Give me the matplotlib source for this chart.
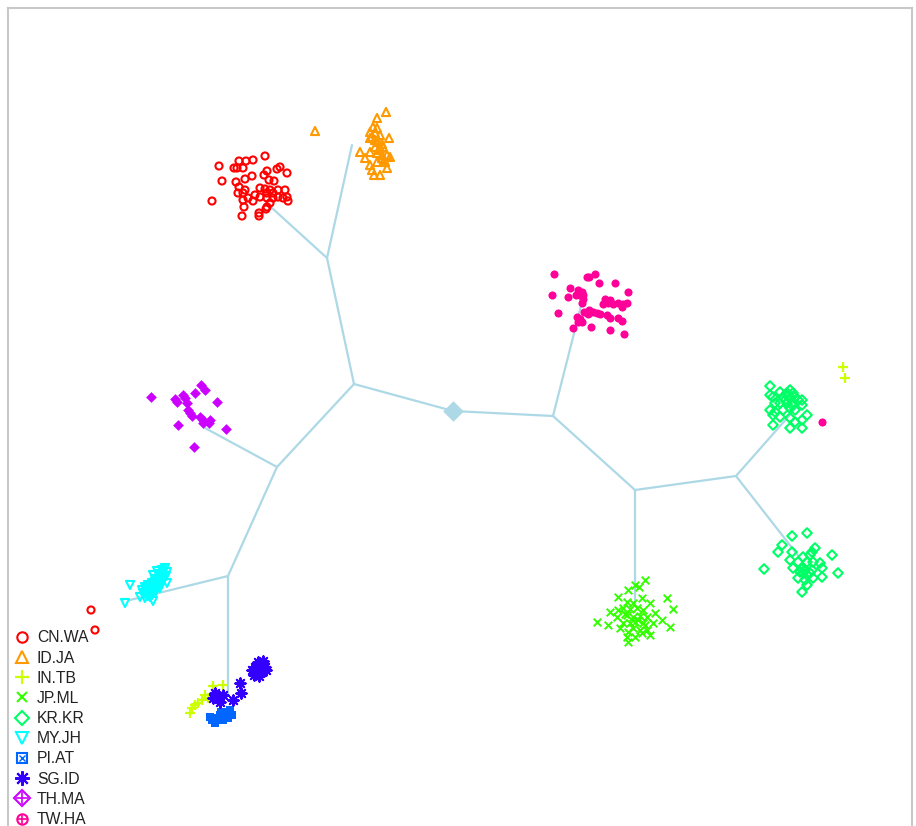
import matplotlib
matplotlib.use("Agg")
import matplotlib.pyplot as plt
from matplotlib.lines import Line2D
from matplotlib.legend_handler import HandlerTuple

# Population labels and R-style rainbow(10) palette
populations = ["CN.WA", "ID.JA", "IN.TB", "JP.ML", "KR.KR",
               "MY.JH", "PI.AT", "SG.ID", "TH.MA", "TW.HA"]
colors = ["#FF0000", "#FF9900", "#CCFF00", "#33FF00", "#00FF66",
          "#00FFFF", "#0066FF", "#3300FF", "#CC00FF", "#FF0099"]

# Individual scores per population (x, y on the plotting plane; y grows downward)
cn_wa_x = [265, 219, 239, 246, 253, 234, 243, 237, 280, 277, 287, 267, 264, 252, 245,
           222, 236, 269, 274, 239, 245, 260, 265, 270, 267, 273, 278, 285, 238, 243,
           255, 248, 260, 267, 273, 278, 283, 288, 287, 212, 243, 253, 270, 267, 266,
           244, 259, 259, 242, 91, 95]
cn_wa_y = [156, 166, 161, 161, 160, 168, 168, 168, 167, 169, 173, 171, 175, 176, 179,
           181, 182, 180, 181, 187, 190, 188, 189, 190, 193, 193, 190, 190, 193, 193,
           195, 198, 197, 198, 198, 197, 198, 201, 197, 201, 200, 201, 203, 207, 209,
           207, 213, 216, 216, 610, 630]

id_ja_x = [315, 386, 377, 373, 377, 370, 375, 372, 380, 389, 370, 378, 382, 375, 380,
           383, 360, 370, 377, 382, 387, 390, 365, 382, 385, 370, 377, 372, 387, 374, 380,
           375, 379, 384]
id_ja_y = [131, 112, 118, 127, 128, 132, 133, 137, 135, 138, 138, 142, 144, 147, 148,
           147, 152, 152, 153, 155, 155, 157, 158, 158, 162, 165, 162, 170, 168, 175, 175,
           140, 150, 160]

in_tb_x = [213, 223, 205, 202, 195, 190, 192, 198, 208, 843, 845]
in_tb_y = [686, 685, 695, 700, 705, 713, 708, 703, 698, 367, 378]

jp_ml_x = [645, 635, 639, 628, 618, 642, 667, 627, 633, 650, 673, 610, 618, 623, 630,
           637, 643, 617, 627, 633, 640, 647, 655, 597, 608, 623, 630, 635, 643, 653,
           662, 670, 620, 633, 640, 647, 628, 642, 650, 627, 635, 628, 625, 638, 645]
jp_ml_y = [580, 585, 587, 590, 597, 598, 598, 602, 603, 603, 609, 612, 610, 608, 609,
           608, 610, 617, 615, 617, 616, 617, 613, 622, 625, 623, 623, 622, 623, 623,
           620, 627, 628, 628, 630, 630, 632, 633, 635, 637, 637, 642, 614, 620, 625]

kr_kr_x = [770, 780, 790, 787, 793, 770, 773, 783, 790, 795, 798, 802, 775, 780, 787,
           793, 802, 770, 775, 783, 790, 795, 807, 773, 780, 790, 795, 802, 773, 790, 802,
           785, 792, 788,
           792, 807, 782, 778, 815, 812, 792, 810, 803, 832, 790, 798, 807, 813, 820,
           793, 802, 812, 822, 764, 803, 807, 810, 838, 798, 805, 813, 822, 807, 802,
           800, 805]
kr_kr_y = [386, 392, 390, 393, 393, 395, 397, 397, 398, 397, 400, 400, 403, 403, 403,
           403, 405, 410, 412, 410, 408, 410, 415, 415, 417, 418, 422, 420, 425, 428, 428,
           400, 405, 396,
           536, 533, 545, 552, 548, 552, 552, 555, 557, 555, 560, 562, 562, 562, 563,
           568, 569, 570, 568, 569, 573, 575, 573, 573, 578, 580, 578, 577, 585, 592,
           572, 570]

my_jh_x = [130, 125, 153, 153, 167, 162, 165, 167, 163, 160, 158, 155, 152, 148, 145,
           142, 143, 147, 150, 153, 157, 160, 163, 140, 145, 150, 158, 161, 155, 149,
           166, 164, 161, 158, 155, 152, 149, 146, 144, 148, 152, 156, 160, 157, 151, 146]
my_jh_y = [585, 603, 601, 575, 583, 570, 568, 572, 573, 577, 580, 582, 583, 585, 587,
           590, 593, 595, 592, 588, 585, 582, 578, 597, 598, 597, 574, 576, 579, 589,
           576, 579, 584, 587, 590, 593, 593, 592, 594, 596, 595, 591, 588, 571, 590, 589]

pi_at_x = [210, 215, 220, 225, 230, 232, 228, 223, 218, 215, 212, 226, 221]
pi_at_y = [717, 718, 715, 712, 710, 715, 718, 720, 720, 723, 720, 716, 712]

sg_id_x = [258, 262, 255, 260, 265, 252, 257, 262, 266, 254, 259, 263,
           240, 241, 233, 215, 223, 220, 213]
sg_id_y = [662, 664, 667, 668, 667, 670, 672, 671, 670, 675, 676, 661,
           683, 693, 700, 693, 695, 702, 698]

th_ma_x = [151, 175, 177, 183, 185, 201, 205, 195, 187, 217, 188, 190, 192, 200, 203,
           203, 210, 209, 178, 226, 194]
th_ma_y = [397, 399, 402, 395, 398, 385, 390, 393, 403, 402, 410, 413, 416, 417, 420,
           423, 420, 423, 425, 429, 447]

tw_ha_x = [554, 589, 595, 587, 599, 615, 628, 570, 578, 582, 580, 583, 552, 568, 576,
           583, 582, 605, 610, 608, 603, 613, 618, 623, 627, 622, 584, 589, 593, 588,
           597, 600, 558, 577, 580, 578, 582, 607, 610, 618, 622, 573, 591, 610, 624, 822]
tw_ha_y = [274, 277, 274, 277, 283, 283, 292, 288, 290, 292, 295, 295, 295, 297, 295,
           299, 303, 299, 300, 303, 304, 304, 303, 304, 303, 307, 312, 310, 312, 314,
           313, 314, 313, 317, 319, 322, 322, 315, 318, 318, 321, 328, 327, 330, 334, 422]

# Tree: node positions and edges (parent, child)
node_names = ["root", "A", "B", "C", "D", "E", "F", "G",
              "t_cn", "t_id", "t_th", "t_my", "t_pi", "t_tw", "t_jp", "t_kr1", "t_kr2"]
node_x = [453, 354, 327, 277, 228, 553, 635, 736,
          272, 352, 205, 130, 228, 583, 635, 803, 800]
node_y = [411, 384, 258, 467, 576, 416, 490, 476,
          208, 145, 428, 600, 695, 298, 604, 400, 558]
edges = [("root", "A"), ("A", "B"), ("B", "t_cn"), ("B", "t_id"), ("A", "C"),
         ("C", "t_th"), ("C", "D"), ("D", "t_my"), ("D", "t_pi"),
         ("root", "E"), ("E", "t_tw"), ("E", "F"), ("F", "t_jp"), ("F", "G"),
         ("G", "t_kr1"), ("G", "t_kr2")]

W, H = 916, 826
fig = plt.figure(figsize=(W / 100, H / 100), dpi=100)
ax = fig.add_axes([8 / W, 0, (912 - 8) / W, (H - 8) / H])
ax.set_xlim(8, 912)
ax.set_ylim(826, 8)
ax.set_xticks([])
ax.set_yticks([])
for side in ("left", "top", "right"):
    ax.spines[side].set_color("#c8c8c8")
    ax.spines[side].set_linewidth(1.5)
ax.spines["bottom"].set_visible(False)

pos = {n: (x, y) for n, x, y in zip(node_names, node_x, node_y)}
tree_col = "#ADD8E6"
for a, b in edges:
    ax.plot([pos[a][0], pos[b][0]], [pos[a][1], pos[b][1]],
            color=tree_col, lw=1.6, zorder=1, solid_capstyle="round")
ax.scatter([pos["root"][0]], [pos["root"][1]], marker="D", s=110,
           color=tree_col, zorder=2, linewidths=0)

groups = {
    "CN.WA": (cn_wa_x, cn_wa_y), "ID.JA": (id_ja_x, id_ja_y),
    "IN.TB": (in_tb_x, in_tb_y), "JP.ML": (jp_ml_x, jp_ml_y),
    "KR.KR": (kr_kr_x, kr_kr_y), "MY.JH": (my_jh_x, my_jh_y),
    "PI.AT": (pi_at_x, pi_at_y), "SG.ID": (sg_id_x, sg_id_y),
    "TH.MA": (th_ma_x, th_ma_y), "TW.HA": (tw_ha_x, tw_ha_y),
}
# marker, size, hollow?
styles = {
    "CN.WA": ("o", 26, True), "ID.JA": ("^", 34, True), "IN.TB": ("P", 38, False),
    "JP.ML": ("x", 30, False), "KR.KR": ("D", 24, True), "MY.JH": ("v", 34, True),
    "PI.AT": ("s", 38, False), "SG.ID": ("*", 70, False), "TH.MA": ("D", 30, False),
    "TW.HA": ("o", 34, False),
}
for name, col in zip(populations, colors):
    xs, ys = groups[name]
    m, s, hollow = styles[name]
    if name == "IN.TB":
        ax.scatter(xs, ys, marker="+", s=55, color=col, linewidths=1.6, zorder=3)
    elif name == "SG.ID":
        ax.scatter(xs, ys, marker=(8, 2, 0), s=55, color=col, linewidths=1.5, zorder=3)
    elif hollow:
        ax.scatter(xs, ys, marker=m, s=s, facecolors="none", edgecolors=col,
                   linewidths=1.5, zorder=3)
    elif m == "x":
        ax.scatter(xs, ys, marker="x", s=s, color=col, linewidths=1.4, zorder=3)
    else:
        ax.scatter(xs, ys, marker=m, s=s, color=col, linewidths=0, zorder=3)

# Legend with R-style point symbols
def mk(marker, col, fill="none", ms=7.5, mew=1.5):
    return Line2D([], [], linestyle="none", marker=marker, markersize=ms,
                  markerfacecolor=fill, markeredgecolor=col, markeredgewidth=mew)

handles = [
    mk("o", colors[0]),
    mk("^", colors[1], ms=8.5),
    mk("+", colors[2], ms=10.5, mew=1.6),
    mk("x", colors[3], ms=7.5),
    mk("D", colors[4], ms=7.5),
    mk("v", colors[5], ms=8.5),
    (mk("s", colors[6], ms=7.5), mk("x", colors[6], ms=5, mew=1.0)),
    mk((8, 2, 0), colors[7], ms=10.5, mew=1.5),
    (mk("D", colors[8], ms=8.5), mk("+", colors[8], ms=8.5, mew=1.2)),
    (mk("o", colors[9], ms=7.5), mk("+", colors[9], ms=7.5, mew=1.2)),
]
leg = ax.legend(handles, populations, loc="lower left",
                bbox_to_anchor=(4 / W, -12 / H), bbox_transform=fig.transFigure,
                frameon=False, handlelength=0.95, handletextpad=0.45,
                labelspacing=0.33, borderpad=0.2,
                prop={"family": "Liberation Sans", "size": 11.3},
                handler_map={tuple: HandlerTuple(ndivide=1, pad=0)})
for t in leg.get_texts():
    t.set_color("#222222")

fig.savefig("out.png", dpi=100)
